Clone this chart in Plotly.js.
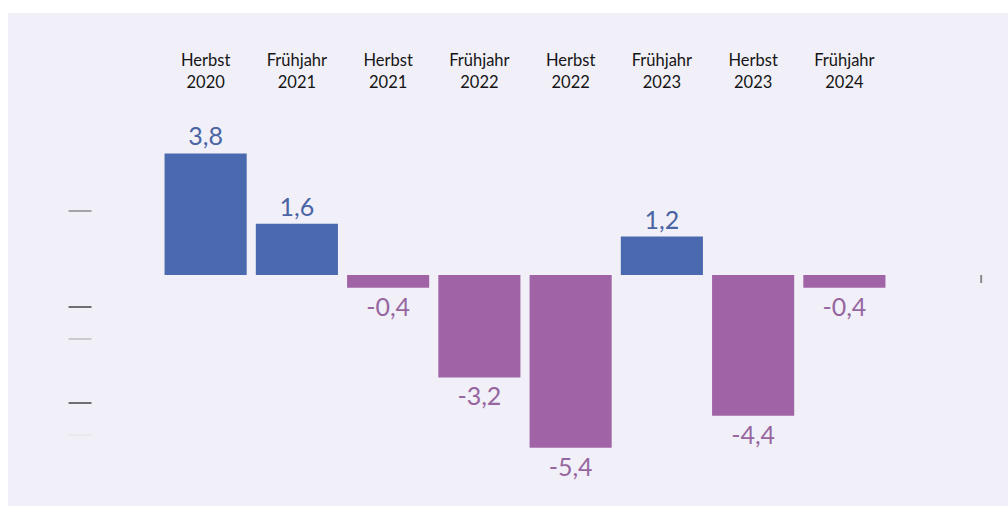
<!DOCTYPE html>
<html>
<head>
<meta charset="utf-8">
<script src="https://cdn.plot.ly/plotly-3.0.1.min.js"></script>
<style>
  html, body { margin: 0; padding: 0; background: #ffffff; width: 1008px; height: 506px; overflow: hidden; }
  #chart { position: absolute; left: 8px; top: 13px; width: 1000px; height: 493px; }
</style>
</head>
<body>
<div id="chart"></div>
<script>
// Data
const categories = ["Herbst<br>2020", "Frühjahr<br>2021", "Herbst<br>2021", "Frühjahr<br>2022",
                    "Herbst<br>2022", "Frühjahr<br>2023", "Herbst<br>2023", "Frühjahr<br>2024"];
const values = [3.8, 1.6, -0.4, -3.2, -5.4, 1.2, -4.4, -0.4];
const leftTickValues = [2, -1, -2, -4, -5];
const leftTickColors = ["#7a7a7a", "#2a2a2a", "#b5b5b8", "#2a2a2a", "#e4e3ea"];

const BLUE = "#4a69ae", PURPLE = "#a064a6";
const BLUE_TXT = "#4a64a4", PURPLE_TXT = "#9766a0";

const barColors = values.map(v => v >= 0 ? BLUE : PURPLE);
const txtColors = values.map(v => v >= 0 ? BLUE_TXT : PURPLE_TXT);
const labels = values.map(v => v.toFixed(1).replace(".", ","));

// layout geometry (div is 1000x493, offset 8,13)
const W = 1000, H = 493;
const mL = 151.5, mR = 118.2, mT = 87, mB = 6;
const plotW = W - mL - mR;
const px2x = px => (px - 8 - mL) / plotW;   // page px -> paper x

const shapes = leftTickValues.map((v, i) => ({
  type: "line", xref: "paper", yref: "y",
  x0: px2x(68), x1: px2x(91), y0: v, y1: v,
  line: { color: leftTickColors[i], width: 1.3 }
}));
shapes.push({
  type: "line", xref: "paper", yref: "y",
  x0: px2x(981), x1: px2x(981), y0: 0, y1: -0.25,
  line: { color: "#8a8a8f", width: 2 }
});

const trace = {
  type: "bar",
  x: categories,
  y: values,
  marker: { color: barColors, line: { width: 0 } },
  text: labels,
  textposition: "outside",
  textfont: { family: "Lato, sans-serif", size: 25, weight: 400, color: txtColors },
  cliponaxis: false,
  hoverinfo: "none"
};

const layout = {
  width: W, height: H,
  margin: { l: mL, r: mR, t: mT, b: mB, pad: 0 },
  paper_bgcolor: "#f1f0f8",
  plot_bgcolor: "rgba(0,0,0,0)",
  bargap: 0.1,
  showlegend: false,
  xaxis: {
    type: "category",
    side: "top",
    range: [-0.5, 7.5],
    showgrid: false, zeroline: false, showline: false, ticks: "",
    tickfont: { family: "Lato, sans-serif", size: 16.5, color: "#151515" },
    ticklabelstandoff: 8,
    fixedrange: true
  },
  yaxis: {
    range: [-7.03125, 5.46875],
    visible: false,
    showgrid: false, zeroline: false,
    fixedrange: true
  },
  shapes: shapes
};

Plotly.newPlot("chart", [trace], layout, { displayModeBar: false, staticPlot: true });
</script>
</body>
</html>
